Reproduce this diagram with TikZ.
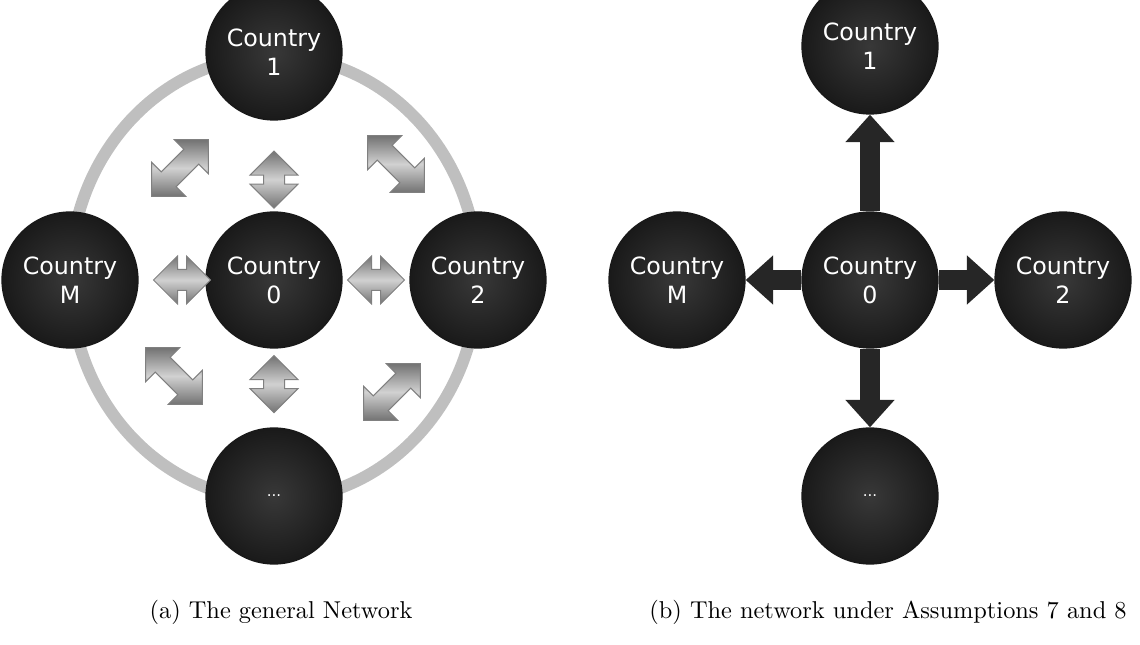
\documentclass[tikz,border=0pt]{standalone}
\usepackage{fontspec}
\usepackage{tikz}
\usetikzlibrary{calc, shapes.arrows, arrows.meta}
\newfontfamily\ctryfont{DejaVu Sans}

\begin{document}
\begin{tikzpicture}[x=0.4pt, y=-0.4pt,
    country/.style={circle, minimum size=54.4pt, inner sep=0pt, align=center,
        text=white, font=\ctryfont\fontsize{9.5}{11.5}\selectfont,
        draw=black!90, line width=0.5pt, inner color=black!78, outer color=black!90},
    ring/.style={line width=4.8pt, draw=black!25},
    linkarrow/.style={double arrow, inner xsep=0pt, inner ysep=4pt, minimum width=18.8pt,
        double arrow head extend=5.4pt, draw=black!50, line width=0.4pt,
        top color=black!55, bottom color=black!55, middle color=black!18},
    outlink/.style={line width=8pt, draw=black!85,
        -{Triangle[width=19pt, length=11pt]}},
    caption/.style={font=\fontsize{9.75}{12}\selectfont}]
    \useasboundingbox (0,0) rectangle (1140,645);

    % --- (a) the general network ---
    \coordinate (ca) at (274,278);
    \draw[ring] (ca) ellipse [x radius=204, y radius=222];

    \node[country] (a0) at (274,280) {Country\\0};
    \node[country] (a1) at (274,52) {Country\\1};
    \node[country] (a2) at (478,280) {Country\\2};
    \node[country] (aM) at (70,280) {Country\\M};
    \node[country] (aD) at (274,496) {\fontsize{6}{6}\selectfont ...};

    % short links to the centre
    \node[linkarrow, minimum height=22.8pt, rotate=90] (l01) at ($(a0.north)!0.35!(a1.south)$) {};
    \node[linkarrow, minimum height=22.8pt, rotate=90] (l0D) at ($(a0.south)!0.45!(aD.north)$) {};
    \node[linkarrow, minimum height=22.8pt] (l02) at ($(a0.east)!0.5!(a2.west)$) {};
    \node[linkarrow, minimum height=22.8pt] (l0M) at ($(a0.west)!0.35!(aM.east)$) {};

    % links between the outer countries
    \node[linkarrow, minimum height=32pt, rotate=45] (lM1) at ($(ca)+(-94,-110)$) {};
    \node[linkarrow, minimum height=32pt, rotate=-45] (l12) at ($(ca)+(122,-114)$) {};
    \node[linkarrow, minimum height=32pt, rotate=-45] (lMD) at ($(ca)+(-100,98)$) {};
    \node[linkarrow, minimum height=32pt, rotate=45] (l2D) at ($(ca)+(118,114)$) {};

    % --- (b) the network under the assumptions ---
    \node[country] (b0) at (870,280) {Country\\0};
    \node[country] (b1) at (870,46) {Country\\1};
    \node[country] (b2) at (1063,280) {Country\\2};
    \node[country] (bM) at (677,280) {Country\\M};
    \node[country] (bD) at (870,496) {\fontsize{6}{6}\selectfont ...};

    \draw[outlink] (b0.north) -- (b1.south);
    \draw[outlink] (b0.south) -- (bD.north);
    \draw[outlink] (b0.east) -- (b2.west);
    \draw[outlink] (b0.west) -- (bM.east);

    % --- captions ---
    \node[caption] (capA) at (281,612) {(a) The general Network};
    \node[caption] (capB) at (888,612) {(b) The network under Assumptions 7 and 8};
\end{tikzpicture}
\end{document}
